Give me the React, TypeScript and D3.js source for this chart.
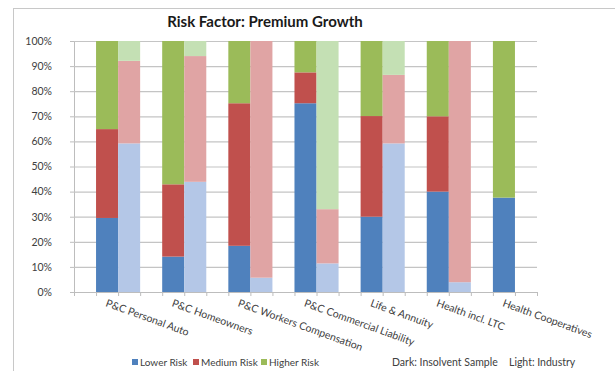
import React, { useRef, useEffect } from "react";
import * as d3 from "d3";

const categories = [
  "P&C Personal Auto",
  "P&C Homeowners",
  "P&C Workers Compensation",
  "P&C Commercial Liability",
  "Life & Annuity",
  "Health incl. LTC",
  "Health Cooperatives",
];
const riskLevels = ["Lower Risk", "Medium Risk", "Higher Risk"];

// dark = insolvent sample, light = industry (percent of total)
const darkLower = [29.5, 14.1, 18.4, 75.2, 30, 40, 37.6];
const darkMedium = [35.4, 28.8, 56.8, 12.3, 40.1, 30, 0];
const darkHigher = [35.1, 57.1, 24.8, 12.5, 29.9, 30, 62.4];
const lightLower = [59.2, 43.9, 5.7, 11.4, 59.2, 3.9, 0];
const lightMedium = [32.9, 50.1, 94.3, 21.6, 27.3, 96.1, 0];
const lightHigher = [7.9, 6, 0, 67, 13.5, 0, 0];

const yTicks = [0, 10, 20, 30, 40, 50, 60, 70, 80, 90, 100];

const darkColors = ["#4f81bd", "#c0504d", "#9bbb59"];
const lightColors = ["#b4c7e7", "#e0a4a4", "#c4e0b4"];

const App = () => {
  const ref = useRef<HTMLDivElement>(null);

  useEffect(() => {
    const width = 615;
    const height = 371;
    const left = 74;
    const right = 537;
    const top = 41;
    const bottom = 292;
    const font = "Lato, 'Open Sans', sans-serif";

    const slots = categories.length * 3;
    const x = d3.scaleLinear().domain([0, slots]).range([left, right]);
    const y = d3.scaleLinear().domain([0, 100]).range([bottom, top]);

    const rows = (a: number[], b: number[], c: number[]) =>
      categories.map((cat, i) => ({ cat, i, lower: a[i], medium: b[i], higher: c[i] }));
    const stack = d3.stack<any>().keys(["lower", "medium", "higher"]);
    const darkStack = stack(rows(darkLower, darkMedium, darkHigher));
    const lightStack = stack(rows(lightLower, lightMedium, lightHigher));

    const svg = d3.create("svg")
      .attr("width", width)
      .attr("height", height)
      .attr("viewBox", [0, 0, width, height])
      .style("position", "absolute")
      .style("left", "0")
      .style("top", "0")
      .style("background", "#fff");

    // outer frame of the chart
    svg.append("rect")
      .attr("x", 13.5).attr("y", 8.5)
      .attr("width", width).attr("height", height)
      .attr("fill", "none")
      .attr("stroke", "#c8c8c8");

    svg.append("text")
      .attr("x", 265).attr("y", 27)
      .attr("text-anchor", "middle")
      .attr("font-family", font)
      .attr("font-weight", "bold")
      .attr("font-size", 15)
      .attr("fill", "#1a1a1a")
      .text("Risk Factor: Premium Growth");

    // gridlines + y axis
    const yAxis = svg.append("g")
      .attr("transform", `translate(${left},0)`)
      .call(d3.axisLeft(y).tickValues(yTicks).tickSize(4).tickPadding(18).tickFormat(d => `${d}%`));
    yAxis.select(".domain").attr("stroke", "#bdbdbd");
    yAxis.selectAll(".tick line").attr("stroke", "#bdbdbd");
    yAxis.selectAll(".tick text")
      .attr("font-family", font).attr("font-size", 10.5).attr("fill", "#404040");
    yAxis.selectAll(".tick").filter((d: any) => d > 0)
      .append("line")
      .attr("x2", right - left)
      .attr("stroke", "#c4c4c4")
      .attr("stroke-width", 1.2);

    const drawStack = (series: any[], colors: string[], offset: number) => {
      series.forEach((s, k) => {
        svg.append("g")
          .selectAll("rect")
          .data(s.filter((d: any) => d[1] - d[0] > 0))
          .join("rect")
          .attr("x", (d: any) => x(d.data.i * 3 + offset))
          .attr("width", x(1) - x(0))
          .attr("y", (d: any) => y(d[1]))
          .attr("height", (d: any) => y(d[0]) - y(d[1]))
          .attr("fill", colors[k]);
      });
    };
    drawStack(darkStack, darkColors, 1);
    drawStack(lightStack, lightColors, 2);

    // x axis with a tick at every slot boundary
    const xAxis = svg.append("g")
      .attr("transform", `translate(0,${bottom})`)
      .call(d3.axisBottom(x).tickValues(d3.range(slots + 1)).tickSize(4).tickFormat(() => ""));
    xAxis.select(".domain").attr("stroke", "#bdbdbd");
    xAxis.selectAll(".tick line").attr("stroke", "#bdbdbd");

    svg.append("g")
      .selectAll("text")
      .data(categories)
      .join("text")
      .attr("transform", (d, i) => `translate(${x(i * 3 + 1.5) - 2},${bottom + 14}) rotate(20)`)
      .attr("font-family", font)
      .attr("font-size", 10.5)
      .attr("fill", "#404040")
      .text(d => d);

    // legend
    const legend = svg.append("g").attr("font-family", font).attr("font-size", 10.5).attr("fill", "#404040");
    const legendX = [132, 193, 261];
    riskLevels.forEach((r, k) => {
      legend.append("rect")
        .attr("x", legendX[k]).attr("y", 359)
        .attr("width", 6).attr("height", 6)
        .attr("fill", darkColors[k]);
      legend.append("text")
        .attr("x", legendX[k] + 8).attr("y", 366)
        .attr("font-size", 10)
        .text(r);
    });
    legend.append("text").attr("x", 392).attr("y", 366).text("Dark: Insolvent Sample");
    legend.append("text").attr("x", 509).attr("y", 366).text("Light: Industry");

    ref.current!.innerHTML = "";
    ref.current!.appendChild(svg.node()!);
  }, []);

  return <div ref={ref} />;
};

export default App;
